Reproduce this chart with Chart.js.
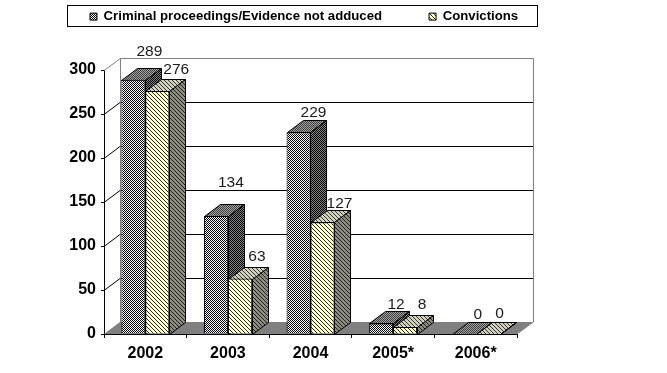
<!DOCTYPE html>
<html><head><meta charset="utf-8">
<style>html,body{margin:0;padding:0;background:#fff}canvas{display:block}</style>
<script src="https://cdn.jsdelivr.net/npm/chart.js@4"></script>
</head><body><canvas id="c" width="667" height="373"></canvas>
<script>
const categories = ['2002','2003','2004','2005*','2006*'];
const proceedings = [289,134,229,12,0];
const convictions = [276,63,127,8,0];
const yTicks = [0,50,100,150,200,250,300];
const seriesNames = ['Criminal proceedings/Evidence not adduced','Convictions'];

const DX = 16, DY = 12;
function checker(a,b){
  const c=document.createElement('canvas');c.width=c.height=2;
  const x=c.getContext('2d');x.fillStyle=b;x.fillRect(0,0,2,2);x.fillStyle=a;x.fillRect(0,0,1,1);x.fillRect(1,1,1,1);
  return x.createPattern(c,'repeat');
}
function hatch(bg,fg){
  const c=document.createElement('canvas');c.width=c.height=4;
  const x=c.getContext('2d');x.fillStyle=bg;x.fillRect(0,0,4,4);x.fillStyle=fg;
  for(let i=0;i<4;i++)x.fillRect(i,i,1,1);
  return x.createPattern(c,'repeat');
}
const faces = [
  {front:checker('#000010','#ffffff'),top:checker('#404040','#a0a0a0'),side:checker('#000000','#808080')},
  {front:hatch('#ffffd8','#303018'),top:hatch('#d0d0c0','#383830'),side:hatch('#8c8c80','#202020')}
];
const labelNudges = [
  [[0,-9],[-1,-14],[-1,0],[-1,1],[-2,0]],
  [[3,-2],[1,-3],[1,1],[1,-3],[-4,-1]]
];

function drawFaces(chart,i){
  const c=chart.ctx,f=faces[i],meta=chart.getDatasetMeta(i);
  c.save();c.strokeStyle='#000';c.lineWidth=1;
  meta.data.forEach(b=>{
    const l=Math.round(b.x-b.width/2)+.5,r=Math.round(b.x+b.width/2)+.5,t=Math.round(b.y)+.5,bs=Math.round(b.base)+.5;
    c.fillStyle=f.top;c.beginPath();c.moveTo(l,t);c.lineTo(l+DX,t-DY);c.lineTo(r+DX,t-DY);c.lineTo(r,t);c.closePath();c.fill();c.stroke();
    c.fillStyle=f.side;c.beginPath();c.moveTo(r,t);c.lineTo(r+DX,t-DY);c.lineTo(r+DX,bs-DY);c.lineTo(r,bs);c.closePath();c.fill();c.stroke();
  });
  c.restore();
}

const scene = {
  id:'scene',
  beforeLayout(chart){
    const l=chart.legend;
    if(!l._patched){const f=l.fit;l.fit=function(){this.maxWidth=2000;f.call(this);this.height=70;};l._patched=true;}
  },
  afterLayout(chart){
    const l=chart.legend,p=l.options.labels.padding;
    l.left=90-p;l.top=10-p;l.right=2000;
  },
  beforeDraw(chart){
    const c=chart.ctx;
    c.save();c.strokeStyle='#000';c.lineWidth=1;c.strokeRect(67.5,5.5,470,21);c.restore();
  },
  beforeDatasetsDraw(chart){
    const c=chart.ctx,a=chart.chartArea,y=chart.scales.y;
    c.save();
    c.lineWidth=1;
    const top=y.getPixelForValue(300),bot=y.getPixelForValue(0);
    c.fillStyle='#808080';
    c.beginPath();c.moveTo(a.left,bot);c.lineTo(a.left+DX,bot-DY);c.lineTo(a.right+DX,bot-DY);c.lineTo(a.right,bot);c.closePath();c.fill();
    yTicks.slice(1,-1).forEach(v=>{
      const p=Math.round(y.getPixelForValue(v))+.5;
      c.strokeStyle='#000';
      c.beginPath();c.moveTo(a.left,p);c.lineTo(a.left+DX,p-DY);c.lineTo(a.right+DX,p-DY);c.stroke();
    });
    c.strokeStyle='#808080';
    c.beginPath();c.moveTo(a.left,top+.5);c.lineTo(a.left+DX+.5,top-DY+.5);c.lineTo(a.right+DX+.5,top-DY+.5);c.lineTo(a.right+DX+.5,bot-DY);c.lineTo(a.right,bot);c.stroke();
    c.beginPath();c.moveTo(a.left+DX+.5,top-DY+.5);c.lineTo(a.left+DX+.5,bot-DY);c.stroke();
    c.restore();
    // left series first, so the right series sits in front of it
    [0,1].forEach(i=>{drawFaces(chart,i);chart.getDatasetMeta(i).controller.draw();});
  },
  beforeDatasetDraw(){return false;},
  afterDatasetsDraw(chart){
    const c=chart.ctx;
    c.save();c.font='15.5px "Liberation Sans"';c.fillStyle='#1a1a1a';c.textAlign='center';c.textBaseline='alphabetic';
    chart.data.datasets.forEach((d,i)=>{
      chart.getDatasetMeta(i).data.forEach((b,j)=>{
        const n=labelNudges[i][j];
        c.fillText(String(d.data[j]),b.x+DX+n[0],b.y-DY-3+n[1]);
      });
    });
    c.restore();
  }
};

new Chart(document.getElementById('c'),{
  type:'bar',
  data:{labels:categories,datasets:[
    {label:seriesNames[0],data:proceedings,backgroundColor:faces[0].front,borderColor:'#000',borderWidth:1},
    {label:seriesNames[1],data:convictions,backgroundColor:faces[1].front,borderColor:'#000',borderWidth:1}
  ]},
  options:{
    responsive:false,animation:false,
    layout:{autoPadding:false,padding:{left:0,top:0,right:150,bottom:0}},
    datasets:{bar:{categoryPercentage:0.58,barPercentage:1}},
    plugins:{
      tooltip:{enabled:false},
      legend:{display:true,position:'top',align:'start',labels:{
        boxWidth:7,boxHeight:7,padding:47,color:'#000',
        font:{family:'"Liberation Sans"',size:13.2,weight:'bold'}
      }}
    },
    scales:{
      x:{
        afterFit(s){s.height=39;},
        grid:{drawOnChartArea:false,drawTicks:true,tickLength:4,color:'#000'},
        border:{color:'#000'},
        ticks:{color:'#000',padding:6,maxRotation:0,font:{family:'"Liberation Sans"',size:16,weight:'bold'}}
      },
      y:{
        min:0,max:300,
        afterFit(s){s.width=104;},
        afterBuildTicks(s){s.ticks=yTicks.map(v=>({value:v}));},
        grid:{drawOnChartArea:false,drawTicks:true,tickLength:3,color:'#000'},
        border:{color:'#000'},
        ticks:{color:'#000',padding:5,font:{family:'"Liberation Sans"',size:16,weight:'bold'}}
      }
    }
  },
  plugins:[scene]
});
</script></body></html>
